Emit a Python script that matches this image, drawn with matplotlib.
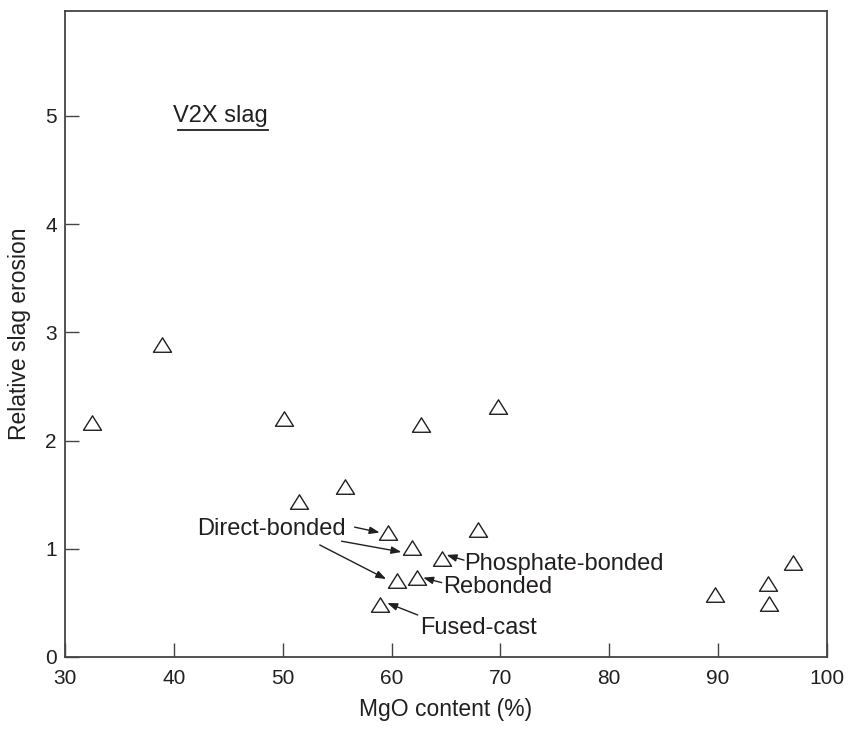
import matplotlib
matplotlib.use('Agg')
import matplotlib.pyplot as plt
from matplotlib.path import Path

plt.rcParams['font.family'] = ['Liberation Sans', 'DejaVu Sans']

ink = '#231f20'

# data
mgo = [32.5, 38.9, 50.1, 51.5, 55.7, 62.7, 69.8, 59.7, 61.9, 67.9,
       64.6, 60.5, 62.3, 58.9, 89.7, 94.6, 94.7, 96.9]
erosion = [2.16, 2.88, 2.20, 1.43, 1.57, 2.14, 2.31, 1.15, 1.01, 1.17,
           0.91, 0.70, 0.73, 0.48, 0.57, 0.67, 0.49, 0.87]

# annotations: text, text position, list of (arrow tail, arrow head)
notes = [
    ('Direct-bonded', (42.1, 1.13), [((56.6, 1.20), (58.9, 1.15)),
                                      ((55.4, 1.07), (60.9, 0.97)),
                                      ((53.4, 1.035), (59.5, 0.72))]),
    ('Phosphate-bonded', (66.65, 0.80), [((66.65, 0.895), (65.05, 0.943))]),
    ('Rebonded', (64.7, 0.59), [((64.6, 0.687), (62.9, 0.733))]),
    ('Fused-cast', (62.65, 0.21), [((62.4, 0.388), (59.6, 0.499))]),
]

tri = Path([(-1, -0.75), (1, -0.75), (0, 0.85), (-1, -0.75)],
           [Path.MOVETO, Path.LINETO, Path.LINETO, Path.CLOSEPOLY])

fig = plt.figure(figsize=(8.49, 7.32), dpi=100)
ax = fig.add_axes([0.0766, 0.1025, 0.8975, 0.8825])

ax.plot(mgo, erosion, linestyle='none', marker=tri, markersize=13,
        markerfacecolor='none', markeredgecolor=ink, markeredgewidth=1.0)

for label, pos, arrows in notes:
    ax.text(pos[0], pos[1], label, fontsize=17, color=ink, ha='left', va='baseline')
    for tail, head in arrows:
        ax.annotate('', xy=head, xytext=tail,
                    arrowprops=dict(arrowstyle='-|>,head_length=0.6,head_width=0.22',
                                    color=ink, lw=1.0, shrinkA=0, shrinkB=0))

t = ax.text(39.9, 5.0, 'V2X slag', fontsize=17, color=ink, ha='left', va='center')
fig.canvas.draw()
bb = t.get_window_extent().transformed(ax.transData.inverted())
ax.plot([bb.x0 + 0.45, bb.x1 - 0.05], [4.87, 4.87], color=ink, lw=1.3)

ax.set_xlim(30, 100)
ax.set_ylim(0, 5.97)
ax.set_xticks(range(30, 101, 10))
ax.set_yticks(range(0, 6))
ax.tick_params(direction='in', length=10, width=1.0, colors='#444444',
               labelcolor=ink, labelsize=15)
ax.tick_params(axis='x', pad=9)
ax.tick_params(axis='y', pad=6)
for s in ax.spines.values():
    s.set_color('#444444')
    s.set_linewidth(1.3)

ax.set_xlabel('MgO content (%)', fontsize=16.5, color=ink, labelpad=7)
ax.set_ylabel('Relative slag erosion', fontsize=16.5, color=ink, labelpad=10)

fig.savefig('out.png', dpi=100)
